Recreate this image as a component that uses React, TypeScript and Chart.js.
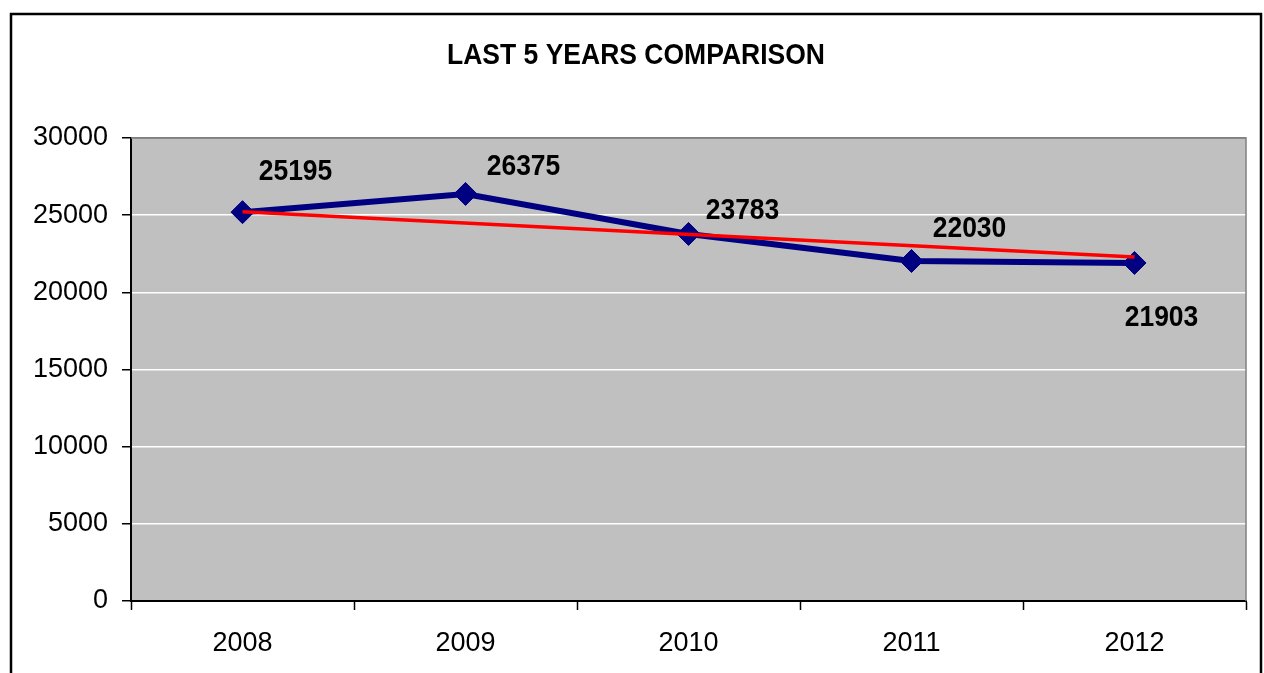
import React, { useEffect, useRef } from "react";
import { Chart, registerables } from "chart.js";

Chart.register(...registerables);

const years = ["2008", "2009", "2010", "2011", "2012"];
const totals = [25195, 26375, 23783, 22030, 21903];
const trend = [25225, null, null, null, 22290];
const yTicks = [0, 5000, 10000, 15000, 20000, 25000, 30000];
const titleText = "LAST 5 YEARS COMPARISON";

// label offsets (px) relative to each point
const labelDx = [53, 58, 54, 58, 27];
const labelDy = [-40, -27, -23, -32, 55];

const FONT = "'Liberation Sans', Arial, sans-serif";

export default function App() {
  const ref = useRef<HTMLCanvasElement | null>(null);

  useEffect(() => {
    const canvas = ref.current;
    if (!canvas) return;

    const decor = {
      id: "decor",
      beforeDraw(chart: any) {
        const { ctx, chartArea } = chart;
        ctx.save();
        ctx.fillStyle = "#ffffff";
        ctx.fillRect(0, 0, chart.width, chart.height);
        ctx.fillStyle = "#C0C0C0";
        ctx.fillRect(chartArea.left, chartArea.top, chartArea.right - chartArea.left, chartArea.bottom - chartArea.top);
        // frame
        ctx.strokeStyle = "#000000";
        ctx.lineWidth = 2.5;
        ctx.beginPath();
        ctx.moveTo(11, 700);
        ctx.lineTo(11, 14);
        ctx.lineTo(1261, 14);
        ctx.lineTo(1261, 700);
        ctx.stroke();
        // title
        ctx.fillStyle = "#000000";
        ctx.font = `bold 26.5px ${FONT}`;
        ctx.textAlign = "center";
        ctx.textBaseline = "middle";
        ctx.translate(636, 56);
        ctx.scale(1, 1.1);
        ctx.fillText(titleText, 0, 0);
        ctx.restore();
      },
      beforeDatasetsDraw(chart: any) {
        const { ctx, chartArea } = chart;
        ctx.save();
        ctx.strokeStyle = "#808080";
        ctx.lineWidth = 1.5;
        ctx.beginPath();
        ctx.moveTo(chartArea.left, chartArea.top);
        ctx.lineTo(chartArea.right, chartArea.top);
        ctx.lineTo(chartArea.right, chartArea.bottom);
        ctx.stroke();
        ctx.restore();
      },
      afterDatasetsDraw(chart: any) {
        const { ctx } = chart;
        const meta = chart.getDatasetMeta(0);
        ctx.save();
        ctx.fillStyle = "#000000";
        ctx.font = `bold 27px ${FONT}`;
        ctx.textAlign = "center";
        ctx.textBaseline = "middle";
        meta.data.forEach((pt: any, i: number) => {
          const x = pt.x + labelDx[i];
          const y = pt.y + labelDy[i];
          ctx.save();
          ctx.translate(x, y);
          ctx.scale(0.98, 1.1);
          ctx.fillText(String(totals[i]), 0, 0);
          ctx.restore();
        });
        ctx.restore();
      },
    };

    const chart = new Chart(canvas, {
      type: "line",
      data: {
        labels: years,
        datasets: [
          {
            label: "Total",
            data: totals,
            borderColor: "#000080",
            backgroundColor: "#000080",
            borderWidth: 6,
            pointStyle: "rectRot",
            pointRadius: 11.5,
            pointBorderWidth: 1,
            pointBorderColor: "#000080",
            pointBackgroundColor: "#000080",
            tension: 0,
            order: 1,
          },
          {
            label: "Trend",
            data: trend,
            borderColor: "#FF0000",
            backgroundColor: "#FF0000",
            borderWidth: 3.5,
            pointRadius: 0,
            spanGaps: true,
            tension: 0,
            order: 0,
          },
        ],
      },
      options: {
        animation: false,
        responsive: false,
        maintainAspectRatio: false,
        layout: { padding: { left: 0, right: 18, top: 138, bottom: 0 } },
        plugins: {
          legend: { display: false },
          title: { display: false },
          tooltip: { enabled: false },
        },
        scales: {
          x: {
            type: "category",
            offset: true,
            grid: {
              offset: true,
              drawOnChartArea: false,
              drawTicks: true,
              tickLength: 9,
              tickColor: "#000000",
              tickWidth: 1.5,
            },
            border: { display: true, color: "#000000", width: 2 },
            ticks: {
              color: "#000000",
              font: { family: FONT, size: 27 },
              padding: 17,
              maxRotation: 0,
            },
            afterFit(scale: any) {
              scale.height = 72;
            },
          },
          y: {
            min: 0,
            max: 30000,
            afterBuildTicks(scale: any) {
              scale.ticks = yTicks.map((v) => ({ value: v }));
            },
            grid: {
              color: (c: any) => (c.tick && c.tick.value === 0 ? "rgba(0,0,0,0)" : c.tick && c.tick.value === 30000 ? "#808080" : "#ffffff"),
              lineWidth: 1.5,
              tickLength: 9,
              tickColor: "#000000",
              tickWidth: 1.5,
            },
            border: { display: true, color: "#000000", width: 2 },
            ticks: {
              color: "#000000",
              font: { family: FONT, size: 27 },
              padding: 14,
              callback: (v: any) => String(v),
            },
            afterFit(scale: any) {
              scale.width = 131;
            },
          },
        },
      },
      plugins: [decor],
    } as any);

    return () => chart.destroy();
  }, []);

  return (
    <div style={{ position: "absolute", left: 0, top: 0, width: 1264, height: 673 }}>
      <canvas ref={ref} width={1264} height={673} style={{ width: 1264, height: 673, display: "block" }} />
    </div>
  );
}
